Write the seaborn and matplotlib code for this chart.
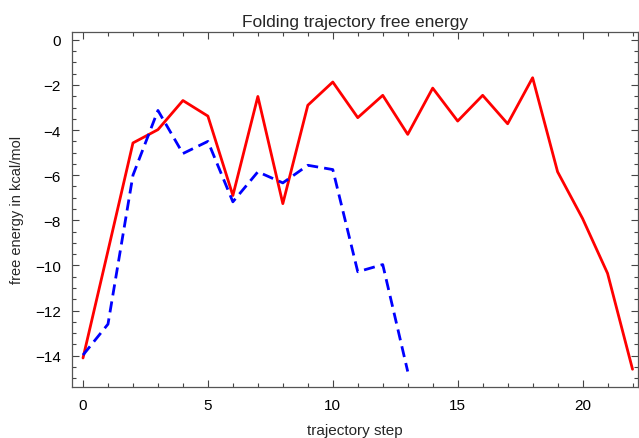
import numpy as np
import pandas as pd
import seaborn as sns
import matplotlib.pyplot as plt
from matplotlib.ticker import MultipleLocator

# duomenys nuskaityti nuo paveikslo
steps_red = list(range(23))
energy_red = [-14.1, -9.35, -4.57, -3.98, -2.69, -3.38, -6.9, -2.51, -7.26, -2.9,
              -1.87, -3.45, -2.46, -4.19, -2.14, -3.6, -2.46, -3.72, -1.68, -5.85,
              -7.92, -10.35, -14.6]
steps_blue = list(range(14))
energy_blue = [-13.97, -12.6, -6.0, -3.13, -5.04, -4.5, -7.18, -5.85, -6.34, -5.56,
               -5.75, -10.28, -9.96, -14.7]

sns.set_style("ticks")
plt.rcParams['font.family'] = ['Liberation Sans', 'DejaVu Sans']

fig = plt.figure(figsize=(6.39, 4.39), dpi=100)
ax = fig.add_axes([0.1127, 0.117, 0.885, 0.808])

red_df = pd.DataFrame({'step': steps_red, 'energy': energy_red})
blue_df = pd.DataFrame({'step': steps_blue, 'energy': energy_blue})

sns.lineplot(data=red_df, x='step', y='energy', color='#ff0000', linewidth=2, ax=ax)
sns.lineplot(data=blue_df, x='step', y='energy', color='#0000ff', linewidth=2,
             linestyle=(0, (4, 2.2)), ax=ax)

ax.set_xlim(-0.44, 22.2)
ax.set_ylim(-15.37, 0.35)
ax.xaxis.set_major_locator(MultipleLocator(5))
ax.xaxis.set_minor_locator(MultipleLocator(1))
ax.yaxis.set_major_locator(MultipleLocator(2))
ax.yaxis.set_minor_locator(MultipleLocator(0.5))
ax.tick_params(which='both', direction='in', top=True, right=True, colors='#444444',
               labelcolor='black', labelsize=11, width=0.8)
ax.tick_params(which='major', length=5, pad=8)
ax.tick_params(which='minor', length=3)
for s in ax.spines.values():
    s.set_color('#555555')
    s.set_linewidth(0.9)

ax.set_title('Folding trajectory free energy', fontsize=12.5, pad=4)
ax.set_xlabel('trajectory step', fontsize=11, labelpad=8)
ax.set_ylabel('free energy in kcal/mol', fontsize=10.5, labelpad=8)

plt.savefig('out.png', dpi=100)
